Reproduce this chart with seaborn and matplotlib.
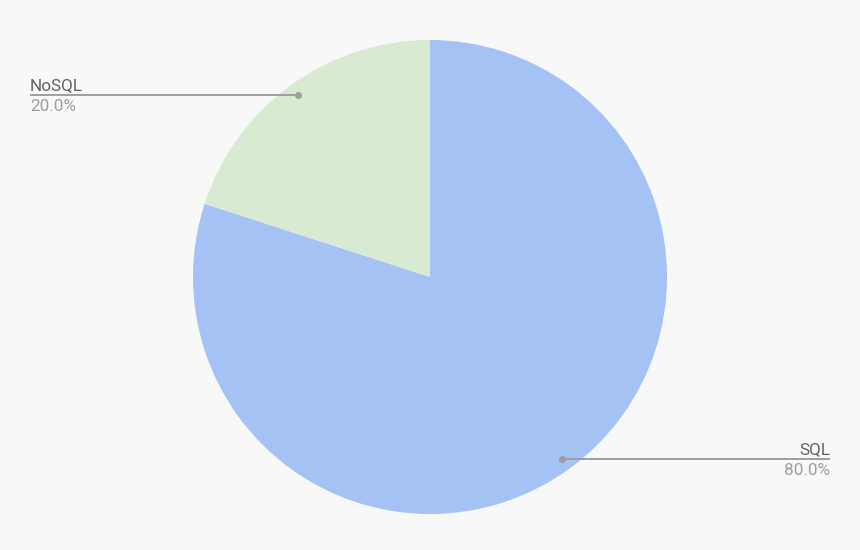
import numpy as np
import matplotlib
matplotlib.use("Agg")
import matplotlib.pyplot as plt
import seaborn as sns

# Datos
labels = ["SQL", "NoSQL"]
values = [80.0, 20.0]
colores = ["#a4c2f4", "#d9ead3"]

sns.set_theme(style="white")
plt.rcParams["font.family"] = ["Roboto", "DejaVu Sans"]

W, H = 860, 550
fig = plt.figure(figsize=(W / 100, H / 100), dpi=100, facecolor="#f8f8f8")
ax = fig.add_axes([0, 0, 1, 1])
ax.set_facecolor("#f8f8f8")

cx, cy, r = 430, H - 277, 237
wedges, _ = ax.pie(values, colors=colores, startangle=90, counterclock=False,
                   center=(cx, cy), radius=r, frame=True,
                   wedgeprops=dict(linewidth=0))
ax.set_xlim(0, W)
ax.set_ylim(0, H)
ax.set_aspect("equal")
ax.axis("off")

total = sum(values)
for w, lab, v in zip(wedges, labels, values):
    ang = np.deg2rad((w.theta1 + w.theta2) / 2)
    px = cx + 0.95 * r * np.cos(ang)
    py = cy + 0.95 * r * np.sin(ang)
    if px < cx:
        x_end, ha = 30, "left"
    else:
        x_end, ha = 830, "right"
    ax.plot([px, x_end], [py, py], color="#9e9e9e", lw=1.4, solid_capstyle="butt")
    ax.plot(px, py, "o", color="#9e9e9e", ms=4)
    ax.text(x_end, py + 5, lab, ha=ha, va="baseline", fontsize=12.3, color="#616161")
    ax.text(x_end, py - 16, f"{v / total * 100:.1f}%", ha=ha, va="baseline",
            fontsize=12.3, color="#9e9e9e")

fig.savefig("out.png", dpi=100, facecolor=fig.get_facecolor())
